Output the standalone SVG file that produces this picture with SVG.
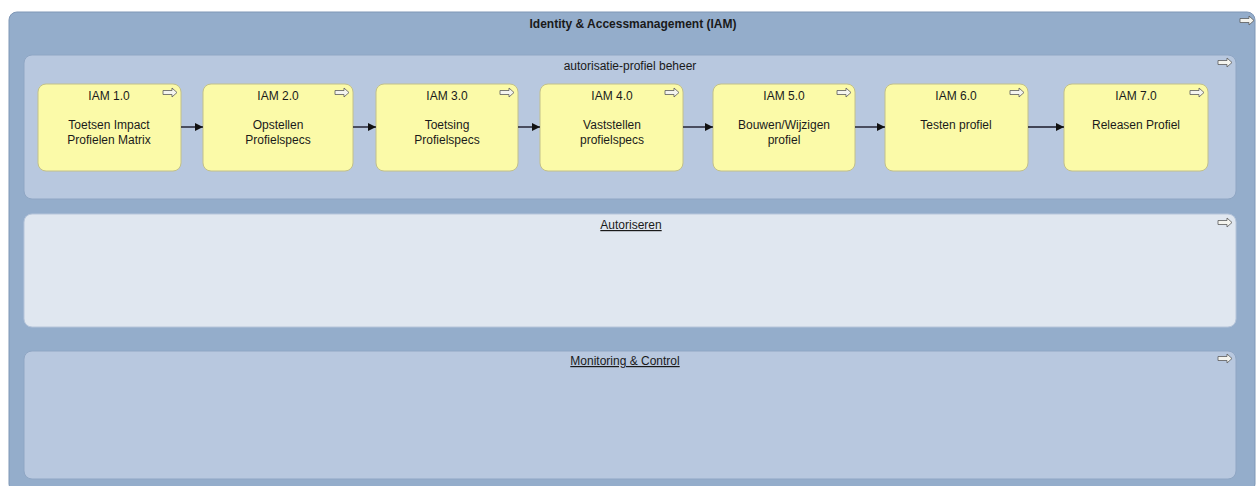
<svg xmlns="http://www.w3.org/2000/svg" width="1260" height="486" viewBox="0 0 1260 486">
<defs>
<style>
.t{font-family:"Liberation Sans",Arial,sans-serif;font-size:12px;fill:#1a1a1a;text-anchor:middle}
.b{font-weight:bold}
.u{text-decoration:underline}
.node{fill:#fbfaa8;stroke:#c2c08a;stroke-width:1}
.ic{fill:#f4f4ee;stroke:#5a5a5a;stroke-width:0.8}
.con{stroke:#1a1a2a;stroke-width:1.4;fill:none;marker-end:url(#ah)}
</style>
<marker id="ah" viewBox="0 0 10 10" refX="10" refY="5" markerWidth="8" markerHeight="8" orient="auto" markerUnits="userSpaceOnUse"><path d="M0,0 L10,5 L0,10 z" fill="#111"/></marker>
<path id="icon" d="M0,2.5 H9 V0 L14,4.5 L9,9 V6.5 H0 Z"/>
</defs>
<rect width="1260" height="486" fill="#fff"/>
<g id="iam">
<rect x="9" y="12" width="1246" height="480" rx="8" fill="#94adcb" stroke="#7f97b6"/>
<text class="t b" x="633" y="28">Identity &amp; Accessmanagement (IAM)</text>
<use href="#icon" class="ic" x="1240" y="16"/>
</g>
<g id="profielbeheer">
<rect x="24" y="55" width="1212" height="144" rx="8" fill="#b8c8df" stroke="#8fa6c4"/>
<text class="t" x="630" y="70">autorisatie-profiel beheer</text>
<use href="#icon" class="ic" x="1218" y="58"/>
</g>
<g id="autoriseren">
<rect x="24" y="214" width="1212" height="113" rx="8" fill="#e0e7f0" stroke="#b6c5da"/>
<text class="t u" x="631" y="229">Autoriseren</text>
<use href="#icon" class="ic" x="1218" y="218"/>
</g>
<g id="monitoring">
<rect x="24" y="351" width="1212" height="128" rx="8" fill="#b8c8df" stroke="#8fa6c4"/>
<text class="t u" x="625" y="365">Monitoring &amp; Control</text>
<use href="#icon" class="ic" x="1218" y="354"/>
</g>
<g id="n1"><rect class="node" x="38" y="84" width="143" height="87" rx="8"/><text class="t" x="109" y="100">IAM 1.0</text><text class="t" x="109" y="129">Toetsen Impact</text><text class="t" x="109" y="144">Profielen Matrix</text><use href="#icon" class="ic" x="163" y="88"/></g>
<g id="n2"><rect class="node" x="203" y="84" width="150" height="87" rx="8"/><text class="t" x="278" y="100">IAM 2.0</text><text class="t" x="278" y="129">Opstellen</text><text class="t" x="278" y="144">Profielspecs</text><use href="#icon" class="ic" x="335" y="88"/></g>
<g id="n3"><rect class="node" x="376" y="84" width="142" height="87" rx="8"/><text class="t" x="447" y="100">IAM 3.0</text><text class="t" x="447" y="129">Toetsing</text><text class="t" x="447" y="144">Profielspecs</text><use href="#icon" class="ic" x="500" y="88"/></g>
<g id="n4"><rect class="node" x="540" y="84" width="143" height="87" rx="8"/><text class="t" x="612" y="100">IAM 4.0</text><text class="t" x="612" y="129">Vaststellen</text><text class="t" x="612" y="144">profielspecs</text><use href="#icon" class="ic" x="665" y="88"/></g>
<g id="n5"><rect class="node" x="713" y="84" width="142" height="87" rx="8"/><text class="t" x="784" y="100">IAM 5.0</text><text class="t" x="784" y="129">Bouwen/Wijzigen</text><text class="t" x="784" y="144">profiel</text><use href="#icon" class="ic" x="837" y="88"/></g>
<g id="n6"><rect class="node" x="885" y="84" width="143" height="87" rx="8"/><text class="t" x="956" y="100">IAM 6.0</text><text class="t" x="956" y="129">Testen profiel</text><use href="#icon" class="ic" x="1010" y="88"/></g>
<g id="n7"><rect class="node" x="1064" y="84" width="144" height="87" rx="8"/><text class="t" x="1136" y="100">IAM 7.0</text><text class="t" x="1136" y="129">Releasen Profiel</text><use href="#icon" class="ic" x="1190" y="88"/></g>
<g id="connectors">
<line class="con" x1="181" y1="127" x2="203" y2="127"/>
<line class="con" x1="353" y1="127" x2="376" y2="127"/>
<line class="con" x1="518" y1="127" x2="540" y2="127"/>
<line class="con" x1="683" y1="127" x2="713" y2="127"/>
<line class="con" x1="855" y1="127" x2="885" y2="127"/>
<line class="con" x1="1028" y1="127" x2="1064" y2="127"/>
</g>
</svg>
